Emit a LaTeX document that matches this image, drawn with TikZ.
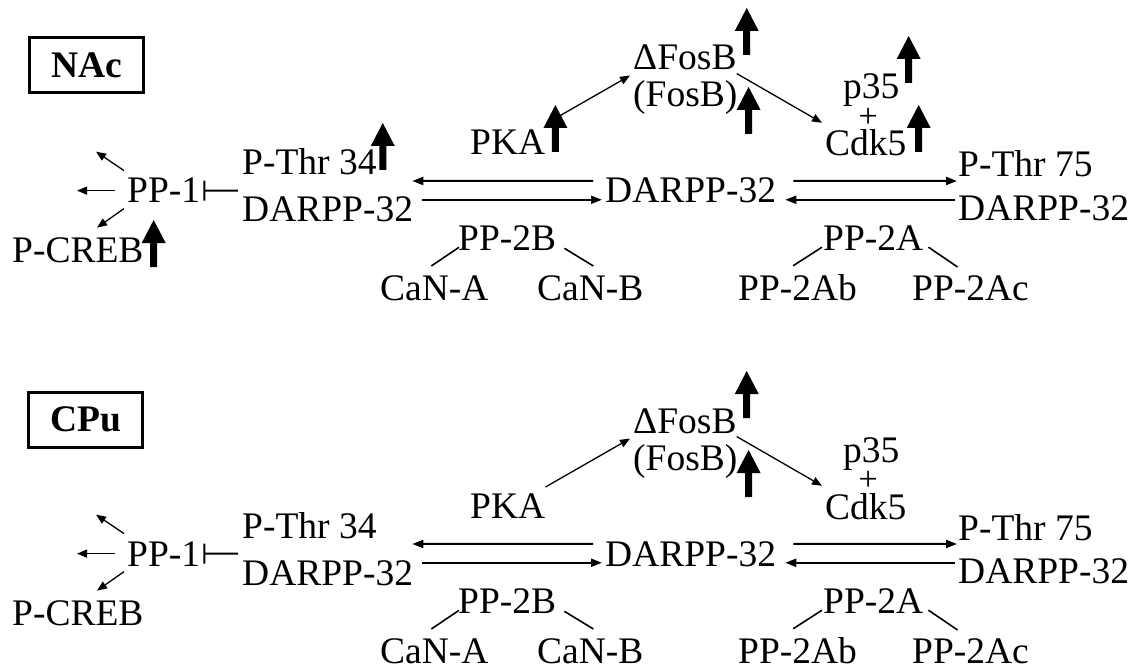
\documentclass[tikz,border=0pt]{standalone}
\usepackage{fontspec}
\setmainfont{Liberation Serif}
\usetikzlibrary{arrows.meta,calc}
\tikzset{
  lbl/.style={inner sep=0pt, anchor=base west, font=\fontsize{37.5}{40}\selectfont},
  boxlbl/.style={draw, line width=3pt, inner sep=0pt, minimum width=114pt, minimum height=55pt, font=\fontsize{37.5}{40}\selectfont\bfseries},
  pluslbl/.style={inner sep=0pt, anchor=center, font=\fontsize{34}{36}\selectfont},
  thinarr/.style={line width=1.3pt, -{Triangle[length=10pt,width=8pt]}},
  react/.style={line width=2pt, -{Triangle[length=11pt,width=8pt]}},
  link/.style={line width=1.6pt},
  inhib/.style={line width=2pt, -{Bar[width=20pt,line width=2pt]}},
  bigup/.pic={\fill (-3.5,0) -- (-3.5,-24) -- (-12,-24) -- (0,-47) -- (12,-24) -- (3.5,-24) -- (3.5,0) -- cycle;}
}
% #1 prefix, #2 vertical offset, #3 box label, #4 box centre, #5 start fraction of PKA arrow
\newcommand\drawpanel[5]{%
\begin{scope}[shift={(0,#2)}, name prefix=#1-]
  \node[boxlbl] (box) at #4 {#3};
  \node[lbl] (pp1) at (127,203) {PP-1};
  \node[lbl] (pcreb) at (12,262) {P-CREB};
  \node[lbl] (pthr34) at (242,175) {P-Thr 34};
  \node[lbl] (dl) at (242,222) {DARPP-32};
  \node[lbl] (dm) at (605,203) {DARPP-32};
  \node[lbl] (pthr75) at (958,177) {P-Thr 75};
  \node[lbl] (dr) at (958,220) {DARPP-32};
  \node[lbl] (pp2b) at (458,250) {PP-2B};
  \node[lbl] (cana) at (380,300) {CaN-A};
  \node[lbl] (canb) at (537,300) {CaN-B};
  \node[lbl] (pp2a) at (823,250) {PP-2A};
  \node[lbl] (pp2ab) at (738,300) {PP-2Ab};
  \node[lbl] (pp2ac) at (912,300) {PP-2Ac};
  \node[lbl] (pka) at (470,155) {PKA};
  \node[lbl] (dfosb) at (633,70) {ΔFosB};
  \node[lbl] (fosb) at (633,107) {(FosB)};
  \node[lbl] (p35) at (843,99) {p35};
  \node[lbl] (cdk5) at (825,156) {Cdk5};
  \node[pluslbl] (plus) at ([shift={(-3,19)}]p35.base) {+};
  % PP-1 outputs
  \draw[thinarr] ([shift={(-3,-20)}]pp1.west) -- ([shift={(-31,-39)}]pp1.west);
  \draw[thinarr] ([shift={(-12,0)}]pp1.west) -- ([shift={(-50,0)}]pp1.west);
  \draw[thinarr] ([shift={(-3,18)}]pp1.west) -- ([shift={(-30,37)}]pp1.west);
  % inhibition
  \draw[inhib] ([shift={(-4,15)}]pthr34.south west) -- ([xshift=3pt]pp1.east);
  % left double arrows
  \draw[react] ([shift={(-12,-10)}]dm.west) -- ([shift={(-1,-16)}]dl.north east);
  \draw[react] ([shift={(9,-10)}]dl.east) -- ([shift={(-3,9)}]dm.west);
  % right double arrows
  \draw[react] ([shift={(17,-10)}]dm.east) -- ([shift={(-1,-14)}]dr.north west);
  \draw[react] ([shift={(-3,-8)}]dr.west) -- ([shift={(9,9)}]dm.east);
  % subunit links
  \draw[link] ([shift={(1,-3)}]pp2b.south west) -- ([shift={(-3,-9)}]cana.north);
  \draw[link] ([shift={(8,-2)}]pp2b.south east) -- ([shift={(3,-9)}]canb.north);
  \draw[link] ([shift={(-1,-3)}]pp2a.south west) -- ([shift={(-4.5,-8)}]pp2ab.north);
  \draw[link] ([shift={(5,-3)}]pp2a.south east) -- ([shift={(-13,-8)}]pp2ac.north);
  % FosB arrows
  \coordinate (pkastart) at ([shift={(0,-6)}]pka.north east);
  \coordinate (fosbend) at ([shift={(-3,5)}]dfosb.south west);
  \draw[thinarr] ($(pkastart)!#5!(fosbend)$) -- (fosbend);
  \draw[thinarr] ([shift={(0,3)}]dfosb.south east) -- ([shift={(-3,-7)}]cdk5.north west);
  % up arrows common to both
  \pic at ([shift={(10,-15)}]dfosb.base east) {bigup};
  \pic at ([shift={(11,27)}]fosb.base east) {bigup};
\end{scope}}
\begin{document}
\begin{tikzpicture}[x=1pt,y=-1pt]
\useasboundingbox (0,0) rectangle (1145,671);
\drawpanel{n}{0}{NAc}{(86.5,65.5)}{0.18}
\drawpanel{c}{363}{CPu}{(85.5,56.5)}{0}
% NAc only increases
\pic at ([shift={(6,-5)}]n-pthr34.base east) {bigup};
\pic at ([shift={(10,-3)}]n-pka.base east) {bigup};
\pic at ([shift={(9,-16)}]n-p35.base east) {bigup};
\pic at ([shift={(12,-4)}]n-cdk5.base east) {bigup};
\pic at ([shift={(10,5)}]n-pcreb.base east) {bigup};
\end{tikzpicture}
\end{document}
